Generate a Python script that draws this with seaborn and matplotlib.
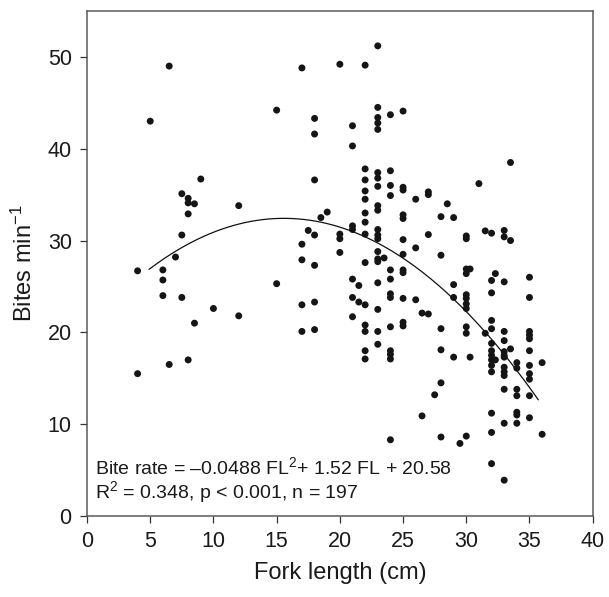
import numpy as np
import pandas as pd
import seaborn as sns
import matplotlib.pyplot as plt

# fork length (cm) and bite rate (bites per min)
fork_length = [
    6.5, 5, 9, 7.5, 8, 8, 8.5, 12, 8, 7.5, 7, 4, 6, 6, 6, 7.5, 10, 12, 8.5, 6.5, 8, 4,
    23, 17, 20, 22, 15, 18, 18, 21, 21,
    23, 23, 23, 23, 24, 25, 18,
    22, 22, 22, 22, 22, 22, 22,
    23, 23, 23, 23, 23, 23, 23, 23,
    24, 24, 24,
    25, 25, 25, 25, 25,
    19, 18.5, 17.5, 18, 20, 20, 21, 21,
    17, 17, 18, 20, 22, 23, 23, 23, 23.5,
    24, 24, 24, 24, 24, 24, 24, 24, 24,
    25, 25, 25, 25, 25, 25,
    15, 21, 21.5, 23, 21, 21.5, 22, 23, 21,
    17, 18, 17, 18, 22, 22, 22, 22, 23, 23,
    33.5, 31, 26, 27, 27, 28.5, 28, 29, 27, 30, 30, 31.5, 32, 33, 33, 33.5,
    26, 28, 30, 30.3, 30, 32.3, 32, 33, 35, 29, 32, 35, 26, 29,
    30, 30, 30, 30,
    26.5, 27, 28, 30, 30, 31.5, 32, 32, 33,
    35, 35, 35,
    32, 32, 32, 32, 32, 32,
    32.3, 33, 33, 33, 33, 33.5, 33, 33, 33, 34, 34, 35, 35, 35, 35, 36,
    28, 29, 30.3, 28, 27.5, 33, 34, 34, 35,
    32, 34, 34, 33, 34, 35, 26.5, 32, 36, 28, 30, 29.5, 32, 33,
]
bite_rate = [
    49.0, 43.0, 36.7, 35.1, 34.6, 34.1, 34.0, 33.8, 32.9, 30.6, 28.2, 26.7, 26.8, 25.7, 24.0,
    23.8, 22.6, 21.8, 21.0, 16.5, 17.0, 15.5,
    51.2, 48.8, 49.2, 49.1, 44.2, 43.3, 41.6, 42.5, 40.3,
    44.5, 43.4, 42.8, 42.1, 43.7, 44.1, 36.6,
    37.8, 36.6, 35.4, 34.5, 33.0, 32.0, 30.7,
    37.4, 36.8, 35.9, 33.8, 33.3, 31.2, 30.6, 30.2,
    37.6, 36.0, 34.9,
    35.8, 35.5, 32.8, 32.4, 30.1,
    33.1, 32.5, 31.1, 30.6, 30.7, 30.2, 31.6, 31.2,
    29.6, 27.9, 27.3, 28.7, 27.6, 28.8, 28.0, 27.7, 28.1,
    26.8, 25.8, 24.2, 23.8, 20.6, 18.0, 17.6, 17.1, 8.3,
    28.5, 26.8, 26.5, 23.7, 21.1, 20.7,
    25.3, 25.8, 25.1, 25.4, 23.8, 23.3, 23.0, 22.5, 21.7,
    23.0, 23.3, 20.1, 20.3, 20.8, 20.1, 18.0, 17.1, 20.1, 18.7,
    38.5, 36.2, 34.5, 35.3, 35.0, 34.0, 32.6, 32.5, 30.65, 30.5, 30.2, 31.05, 30.8, 31.1, 30.4, 30.0,
    29.2, 28.4, 26.9, 26.9, 26.4, 26.4, 25.65, 25.5, 26.0, 25.2, 24.3, 23.8, 23.55, 23.8,
    24.1, 23.7, 23.1, 22.6,
    22.1, 22.0, 20.4, 20.6, 19.9, 19.9, 21.3, 20.4, 20.1,
    20.1, 19.7, 19.3,
    18.8, 18.0, 17.5, 17.0, 16.4, 15.7,
    17.0, 19.1, 17.9, 17.5, 17.3, 18.2, 16.2, 15.7, 15.3, 16.7, 16.1, 18.0, 16.4, 15.5, 14.9, 16.7,
    18.1, 17.3, 17.3, 14.5, 13.2, 13.8, 13.8, 13.1, 13.1,
    11.2, 11.3, 11.0, 10.1, 10.1, 10.7, 10.9, 9.1, 8.9, 8.6, 8.7, 7.9, 5.7, 3.9,
]

# quadratic fit reported in the figure
fit_coef = [-0.0488, 1.52, 20.58]
fit_range = [4.9, 35.7]

df = pd.DataFrame({"fl": fork_length, "bites": bite_rate})
fl_grid = np.linspace(fit_range[0], fit_range[1], 200)
fit_df = pd.DataFrame({"fl": fl_grid, "bites": np.polyval(fit_coef, fl_grid)})

sns.set_style("ticks")
plt.rcParams["font.family"] = ["Liberation Sans", "DejaVu Sans"]
plt.rcParams["mathtext.fontset"] = "custom"
plt.rcParams["mathtext.rm"] = "Liberation Sans"
plt.rcParams["mathtext.it"] = "Liberation Sans"
plt.rcParams["mathtext.default"] = "rm"

fig = plt.figure(figsize=(6.09, 5.97), dpi=100)
ax = fig.add_axes([0.1429, 0.1357, 0.8303, 0.8459])

sns.scatterplot(data=df, x="fl", y="bites", ax=ax, s=25, color="#151515",
                edgecolor="none", linewidth=0)
sns.lineplot(data=fit_df, x="fl", y="bites", ax=ax, color="#111111", linewidth=0.9)

ax.set_xlim(0, 40)
ax.set_ylim(0, 55)
ax.set_xticks(range(0, 41, 5))
ax.set_yticks(range(0, 51, 10))
ax.tick_params(axis="both", labelsize=15.5, length=5, width=0.9, color="#333333",
               labelcolor="#1a1a1a", pad=6)
for sp in ax.spines.values():
    sp.set_visible(True)
    sp.set_color("#5a5a5a")
    sp.set_linewidth(1.1)

ax.set_xlabel("Fork length (cm)", fontsize=17, color="#1a1a1a", labelpad=7)
ax.set_ylabel("Bites min$^{-1}$", fontsize=17, color="#1a1a1a", labelpad=8)

ax.text(0.6, 4.6, "Bite rate = \u20130.0488 FL$^2$+ 1.52 FL + 20.58", fontsize=14,
        color="#1a1a1a")
ax.text(0.6, 1.9, "R$^2$ = 0.348, p < 0.001, n = 197", fontsize=14, color="#1a1a1a")

fig.savefig("out.png", dpi=100)
